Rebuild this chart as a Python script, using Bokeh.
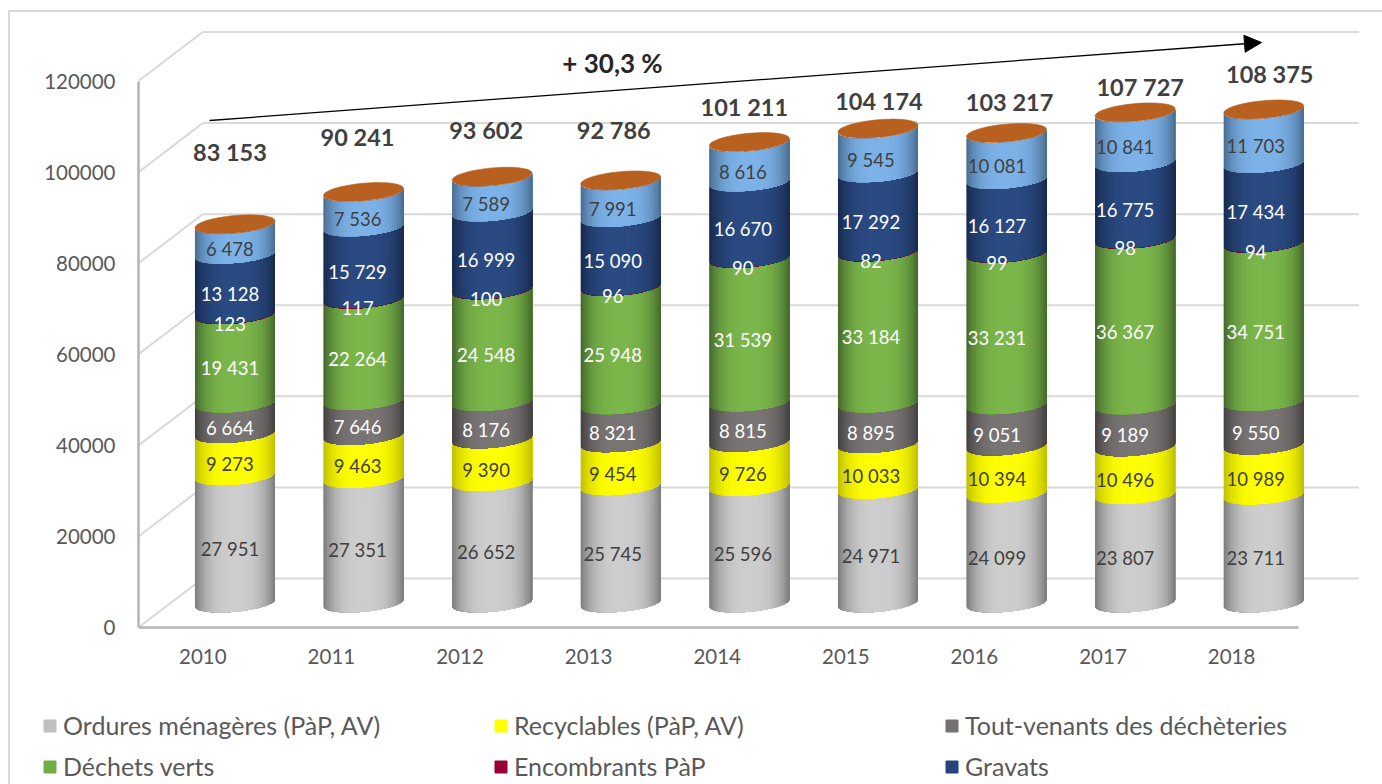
import math
from bokeh.plotting import figure
from bokeh.layouts import column
from bokeh.core.properties import value
from bokeh.models import (ColumnDataSource, FixedTicker, Legend, LegendItem,
                          Arrow, NormalHead, BasicTickFormatter)
from bokeh.embed import file_html
from bokeh.resources import INLINE

years = [2010, 2011, 2012, 2013, 2014, 2015, 2016, 2017, 2018]
ordures = [27951, 27351, 26652, 25745, 25596, 24971, 24099, 23807, 23711]
recyclables = [9273, 9463, 9390, 9454, 9726, 10033, 10394, 10496, 10989]
tout_venants = [6664, 7646, 8176, 8321, 8815, 8895, 9051, 9189, 9550]
dechets_verts = [19431, 22264, 24548, 25948, 31539, 33184, 33231, 36367, 34751]
encombrants = [123, 117, 100, 96, 90, 82, 99, 98, 94]
gravats = [13128, 15729, 16999, 15090, 16670, 17292, 16127, 16775, 17434]
autres = [6478, 7536, 7589, 7991, 8616, 9545, 10081, 10841, 11703]
totals = [83153, 90241, 93602, 92786, 101211, 104174, 103217, 107727, 108375]
y_ticks = [0, 20000, 40000, 60000, 80000, 100000, 120000]
trend_label = "+ 30,3 %"

series = [
    ("Ordures ménagères (PàP, AV)", ordures, (205, 205, 205), (122, 122, 122), "#bfbfbf", "#404040"),
    ("Recyclables (PàP, AV)", recyclables, (255, 255, 0), (190, 190, 0), "#ffff00", "#404040"),
    ("Tout-venants des déchèteries", tout_venants, (122, 117, 117), (68, 64, 64), "#767171", "#ffffff"),
    ("Déchets verts", dechets_verts, (122, 182, 74), (68, 104, 44), "#70ad47", "#ffffff"),
    ("Encombrants PàP", encombrants, (125, 10, 45), (90, 8, 32), "#990033", "#ffffff"),
    ("Gravats", gravats, (42, 74, 130), (24, 42, 78), "#264478", "#ffffff"),
    ("Autres", autres, (124, 178, 232), (72, 108, 145), "#7cb1e4", "#404040"),
]
CAP = "#b8601f"
FONT = value("Lato")

# layout constants (page pixels -> data)
PX_PER_YEAR = 128.6
UNITS_PER_PX = 120000 / 546.5
FRAME_LEFT, FRAME_BOTTOM = 138, 627
W = 1382
H_MAIN, H_LEG = 680, 104
X0 = 2009.5
x_end = X0 + (W - FRAME_LEFT) / PX_PER_YEAR
y_end = FRAME_BOTTOM * UNITS_PER_PX
DX = 0.5                    # depth of the 3D box, years
DV = 49 * UNITS_PER_PX      # depth of the 3D box, values
RX = 40 / PX_PER_YEAR       # cylinder radius
TILT = 3.5 * UNITS_PER_PX   # ellipse tilt
MINOR = 8.8 * UNITS_PER_PX  # ellipse minor semi-axis
N = 36

def xpx(px):
    return X0 + (px - FRAME_LEFT) / PX_PER_YEAR

def ypx(py):
    return (FRAME_BOTTOM - py) * UNITS_PER_PX

FRAME_CSS = "#d9d9d9"
p = figure(width=W, height=H_MAIN, toolbar_location=None, output_backend="svg",
           x_range=(X0, x_end), y_range=(0, y_end),
           min_border_left=FRAME_LEFT, min_border_right=0, min_border_top=0,
           min_border_bottom=H_MAIN - FRAME_BOTTOM, outline_line_color=None,
           background_fill_alpha=0, border_fill_alpha=0, frame_align=False)
p.grid.visible = False
# the chart's outer frame sits behind the transparent canvas
p.styles = {"background":
            f"linear-gradient({FRAME_CSS},{FRAME_CSS}) 8px 10px / 2px 100% no-repeat,"
            f"linear-gradient({FRAME_CSS},{FRAME_CSS}) 8px 10px / 100% 2px no-repeat"}

# walls of the box
grid_col = "#d9d9d9"
p.segment(x0=[X0] * len(y_ticks), y0=y_ticks, x1=[X0 + DX] * len(y_ticks),
          y1=[v + DV for v in y_ticks], line_color=grid_col, line_width=2)
p.segment(x0=[X0 + DX] * len(y_ticks), y0=[v + DV for v in y_ticks],
          x1=[years[-1] + 0.99] * len(y_ticks), y1=[v + DV for v in y_ticks],
          line_color=grid_col, line_width=2)

def mix(c, e, m):
    return "#%02x%02x%02x" % tuple(round(a * (1 - m) + b * m) for a, b in zip(c, e))

def front(v, s, c):
    return v - (-s * TILT + c * MINOR)

angles = [-math.pi / 2 + math.pi * k / N for k in range(N + 1)]
bottoms = [0.0] * len(years)
for name, vals, c_mid, c_edge, leg_col, txt_col in series:
    xs, ys, cols = [], [], []
    for i, yr in enumerate(years):
        cx = yr + DX / 2
        v0 = bottoms[i] + DV / 2
        v1 = v0 + vals[i]
        for k in range(N):
            # each strip reaches the right edge; the next one paints over it, so no seams show
            arc = angles[k:]
            ss = [math.sin(a) for a in arc]
            cs = [math.cos(a) for a in arc]
            xs.append([cx + RX * s for s in ss] + [cx + RX * s for s in reversed(ss)])
            ys.append([front(v0, s, c) for s, c in zip(ss, cs)] +
                      [front(v1, s, c) for s, c in zip(reversed(ss), reversed(cs))])
            cols.append(mix(c_mid, c_edge, abs(math.sin((angles[k] + angles[k + 1]) / 2)) ** 3))
    p.patches(xs, ys, fill_color=cols, line_color=None)
    bottoms = [b + v for b, v in zip(bottoms, vals)]

# orange top layer and cap
cap_x, cap_y = [], []
for i, yr in enumerate(years):
    cx = yr + DX / 2
    v = totals[i] + DV / 2
    pts = [2 * math.pi * k / 72 for k in range(72)]
    cap_x.append([cx + RX * math.sin(a) for a in pts])
    cap_y.append([v - (-math.sin(a) * TILT + math.cos(a) * MINOR) for a in pts])
p.patches(cap_x, cap_y, fill_color=CAP, line_color=CAP, line_width=0.6)

# band labels
label_dx = [-5, -6, -6, -8, -6.5, -7, -9.5, -10, -8]
bottoms = [0.0] * len(years)
for name, vals, c_mid, c_edge, leg_col, txt_col in series:
    src = ColumnDataSource(dict(
        x=[y + DX / 2 for y in years],
        y=[b + v / 2 + DV / 2 for b, v in zip(bottoms, vals)],
        t=[f"{v:,}".replace(",", " ") for v in vals],
        dx=label_dx,
    ))
    p.text("x", "y", text="t", source=src, x_offset="dx", y_offset=9.4,
           text_align="center", text_baseline="middle",
           text_font=FONT, text_font_size="18.5px", text_color=txt_col)
    bottoms = [b + v for b, v in zip(bottoms, vals)]

# total labels
total_dx = [-5, -6, -6, -7, -5, 1, 3, 5, 6]
total_dy = [-72, -55, -47, -50, -35, -28, -31, -25, -35]
src = ColumnDataSource(dict(
    x=[y + DX / 2 for y in years],
    y=[t + DV / 2 for t in totals],
    t=[f"{v:,}".replace(",", " ") for v in totals],
    dx=total_dx, dy=total_dy,
))
p.text("x", "y", text="t", source=src, x_offset="dx", y_offset="dy",
       text_align="center", text_baseline="middle",
       text_font=FONT, text_font_style="bold", text_font_size="23.5px", text_color="#404040")

# trend arrow
p.add_layout(Arrow(end=NormalHead(size=17, fill_color="black", line_color="black"),
                   x_start=xpx(209), y_start=ypx(120), x_end=xpx(1261), y_end=ypx(42),
                   line_color="black", line_width=1.3))
p.text([xpx(612)], [ypx(62)], text=[trend_label], text_align="center", text_baseline="middle",
       text_font=FONT, text_font_style="bold", text_font_size="26px", text_color="#262626")

# axes
ax = p.yaxis[0]
ax.ticker = FixedTicker(ticks=y_ticks)
ax.bounds = (0, 120000)
ax.formatter = BasicTickFormatter(use_scientific=False)
ax.major_tick_line_color = None
ax.minor_tick_line_color = None
ax.axis_line_color = "#b4b4b4"
ax.axis_line_width = 2.5
ax.major_label_standoff = 17
ax.major_label_text_font = "Lato"
ax.major_label_text_font_size = "20.5px"
ax.major_label_text_color = "#595959"

bx = p.xaxis[0]
bx.ticker = FixedTicker(ticks=years)
bx.bounds = (X0, years[-1] + 0.52)
bx.formatter = BasicTickFormatter(use_scientific=False)
bx.major_tick_line_color = None
bx.minor_tick_line_color = None
bx.axis_line_color = "#b4b4b4"
bx.axis_line_width = 2.5
bx.major_label_standoff = 15
bx.major_label_text_font = "Lato"
bx.major_label_text_font_size = "20.5px"
bx.major_label_text_color = "#595959"

# legend, on its own strip below the chart
q = figure(width=W, height=H_LEG, toolbar_location=None, output_backend="svg",
           x_range=(0, W), y_range=(0, H_LEG), min_border=0, outline_line_color=None,
           background_fill_alpha=0, border_fill_alpha=0, frame_align=False)
q.axis.visible = False
q.grid.visible = False
q.styles = {"background": f"linear-gradient({FRAME_CSS},{FRAME_CSS}) 8px 0 / 2px 100% no-repeat"}
legend_items = []
for name, vals, c_mid, c_edge, leg_col, txt_col in series[:6]:
    # off-range swatch: only its legend entry is seen
    r = q.quad(left=[-30], right=[-20], top=[-20], bottom=[-30], fill_color=leg_col, line_color=leg_col)
    legend_items.append(LegendItem(label=name, renderers=[r]))
legend = Legend(items=legend_items, location=(42, 3), orientation="horizontal", ncols=3,
                glyph_width=15, glyph_height=15, label_width=419, label_height=20,
                label_standoff=6, spacing=11, padding=0, margin=0,
                border_line_color=None, background_fill_alpha=0,
                label_text_font="Lato", label_text_font_size="25px", label_text_color="#595959")
q.add_layout(legend)

page = column(p, q, spacing=0)
open("out.html", "w").write(file_html(page, INLINE))
